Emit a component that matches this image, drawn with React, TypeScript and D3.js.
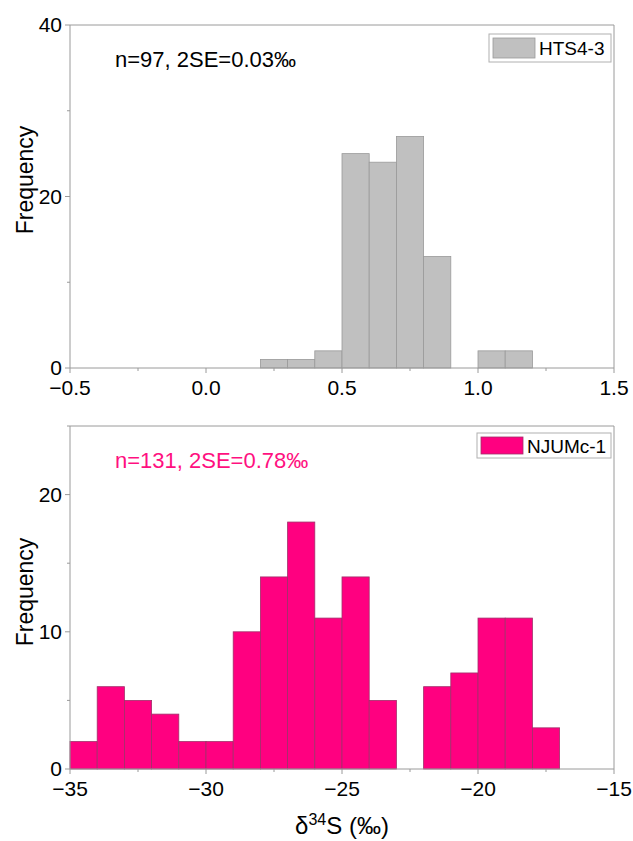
import React, { useEffect, useRef } from 'react';
import * as d3 from 'd3';

// top histogram (HTS4-3), bin width 0.1
const topBinStarts = [0.2, 0.3, 0.4, 0.5, 0.6, 0.7, 0.8, 0.9, 1.0, 1.1];
const topCounts = [1, 1, 2, 25, 24, 27, 13, 0, 2, 2];
const topXTicks = [-0.5, 0.0, 0.5, 1.0, 1.5];
const topYTicks = [0, 20, 40];

// bottom histogram (NJUMc-1), bin width 1
const bottomBinStarts = [-35, -34, -33, -32, -31, -30, -29, -28, -27, -26, -25, -24, -23, -22, -21, -20, -19, -18];
const bottomCounts = [2, 6, 5, 4, 2, 2, 10, 14, 18, 11, 14, 5, 0, 6, 7, 11, 11, 3];
const bottomXTicks = [-35, -30, -25, -20, -15];
const bottomYTicks = [0, 10, 20];

const FONT = 'Liberation Sans, Arial, sans-serif';
const AXIS = '#9a9a9a';

type PanelOpts = {
  top: number;
  bottom: number;
  xDomain: [number, number];
  yDomain: [number, number];
  binStarts: number[];
  counts: number[];
  binWidth: number;
  xTicks: number[];
  xMinor: number;
  yTicks: number[];
  yMinor: number;
  fill: string;
  stroke: string;
  note: string;
  noteColor: string;
  legend: string;
  legendBox: [number, number, number, number];
  xFormat: (d: number) => string;
  yLabelY: number;
};

const drawPanel = (svg: any, o: PanelOpts) => {
  const left = 70;
  const right = 614;
  const x = d3.scaleLinear().domain(o.xDomain).range([left, right]);
  const y = d3.scaleLinear().domain(o.yDomain).range([o.bottom, o.top]);
  const g = svg.append('g');

  // bars (skip empty bins)
  const bins = o.counts
    .map((c, i) => ({ x0: o.binStarts[i], c }))
    .filter((b) => b.c > 0);
  g.selectAll('rect.bar')
    .data(bins)
    .enter()
    .append('rect')
    .attr('class', 'bar')
    .attr('x', (d: any) => x(d.x0))
    .attr('y', (d: any) => y(d.c))
    .attr('width', (d: any) => x(d.x0 + o.binWidth) - x(d.x0))
    .attr('height', (d: any) => y(0) - y(d.c))
    .attr('fill', o.fill)
    .attr('stroke', o.stroke)
    .attr('stroke-width', 0.8);

  // frame
  g.append('path')
    .attr('d', `M${left},${o.bottom}V${o.top}H${right}V${o.bottom}Z`)
    .attr('fill', 'none')
    .attr('stroke', AXIS)
    .attr('stroke-width', 1);

  // x ticks
  const xMinorTicks = d3.range(o.xDomain[0], o.xDomain[1] + 1e-9, o.xMinor);
  g.selectAll('line.xt')
    .data(xMinorTicks)
    .enter()
    .append('line')
    .attr('x1', (d: number) => x(d))
    .attr('x2', (d: number) => x(d))
    .attr('y1', o.bottom)
    .attr('y2', (d: number) => o.bottom + (o.xTicks.some((t) => Math.abs(t - d) < 1e-9) ? 5 : 3))
    .attr('stroke', AXIS);
  g.selectAll('text.xl')
    .data(o.xTicks)
    .enter()
    .append('text')
    .attr('x', (d: number) => x(d))
    .attr('y', o.bottom + 27)
    .attr('text-anchor', 'middle')
    .attr('font-family', FONT)
    .attr('font-size', 21)
    .text(o.xFormat);

  // y ticks
  const yMinorTicks = d3.range(o.yDomain[0], o.yDomain[1] + 1e-9, o.yMinor);
  g.selectAll('line.yt')
    .data(yMinorTicks)
    .enter()
    .append('line')
    .attr('y1', (d: number) => y(d))
    .attr('y2', (d: number) => y(d))
    .attr('x1', left)
    .attr('x2', (d: number) => left - (o.yTicks.includes(d) ? 5 : 3))
    .attr('stroke', AXIS);
  g.selectAll('text.yl')
    .data(o.yTicks)
    .enter()
    .append('text')
    .attr('x', 62)
    .attr('y', (d: number) => y(d) + 7)
    .attr('text-anchor', 'end')
    .attr('font-family', FONT)
    .attr('font-size', 21)
    .text((d: number) => d);

  g.append('text')
    .attr('transform', `translate(33,${o.yLabelY}) rotate(-90)`)
    .attr('text-anchor', 'middle')
    .attr('font-family', FONT)
    .attr('font-size', 23)
    .text('Frequency');

  // annotation
  g.append('text')
    .attr('x', 115)
    .attr('y', o.top + 42)
    .attr('font-family', FONT)
    .attr('font-size', 22)
    .attr('fill', o.noteColor)
    .text(o.note);

  // legend
  const [lx, ly, lw, lh] = o.legendBox;
  g.append('rect')
    .attr('x', lx)
    .attr('y', ly)
    .attr('width', lw)
    .attr('height', lh)
    .attr('fill', 'white')
    .attr('stroke', '#b0b0b0');
  g.append('rect')
    .attr('x', lx + 4)
    .attr('y', ly + 4)
    .attr('width', 42)
    .attr('height', lh - 8)
    .attr('fill', o.fill)
    .attr('stroke', o.stroke)
    .attr('stroke-width', 0.8);
  g.append('text')
    .attr('x', lx + 50)
    .attr('y', ly + lh / 2 + 7)
    .attr('font-family', FONT)
    .attr('font-size', 19)
    .text(o.legend);
};

const App = () => {
  const chartRef = useRef<HTMLDivElement>(null);

  useEffect(() => {
    d3.select(chartRef.current).selectAll('*').remove();

    const svg = d3
      .select(chartRef.current)
      .append('svg')
      .attr('width', 633)
      .attr('height', 841)
      .style('display', 'block')
      .style('background', 'white');

    const minus = (d: number) => (d < 0 ? '\u2212' : '') + Math.abs(d);

    drawPanel(svg, {
      top: 25,
      bottom: 368,
      xDomain: [-0.5, 1.5],
      yDomain: [0, 40],
      binStarts: topBinStarts,
      counts: topCounts,
      binWidth: 0.1,
      xTicks: topXTicks,
      xMinor: 0.25,
      yTicks: topYTicks,
      yMinor: 10,
      fill: '#c0c0c0',
      stroke: '#999999',
      note: 'n=97, 2SE=0.03\u2030',
      noteColor: '#000',
      legend: 'HTS4-3',
      legendBox: [489, 34, 122, 28],
      xFormat: (d: number) => (d < 0 ? '\u2212' : '') + Math.abs(d).toFixed(1),
      yLabelY: 180,
    });

    drawPanel(svg, {
      top: 426,
      bottom: 769,
      xDomain: [-35, -15],
      yDomain: [0, 25],
      binStarts: bottomBinStarts,
      counts: bottomCounts,
      binWidth: 1,
      xTicks: bottomXTicks,
      xMinor: 2.5,
      yTicks: bottomYTicks,
      yMinor: 5,
      fill: '#ff0080',
      stroke: '#a0306a',
      note: 'n=131, 2SE=0.78\u2030',
      noteColor: '#ff1080',
      legend: 'NJUMc-1',
      legendBox: [477, 433, 134, 25],
      xFormat: minus,
      yLabelY: 592,
    });

    // x axis title
    const t = svg
      .append('text')
      .attr('x', 342)
      .attr('y', 834)
      .attr('text-anchor', 'middle')
      .attr('font-family', FONT)
      .attr('font-size', 24);
    t.append('tspan').text('\u03b4');
    t.append('tspan').attr('font-size', 16).attr('dy', -9).text('34');
    t.append('tspan').attr('dy', 9).text('S (\u2030)');
  }, []);

  return <div ref={chartRef} style={{ position: 'absolute', left: 0, top: 0 }}></div>;
};

export default App;
